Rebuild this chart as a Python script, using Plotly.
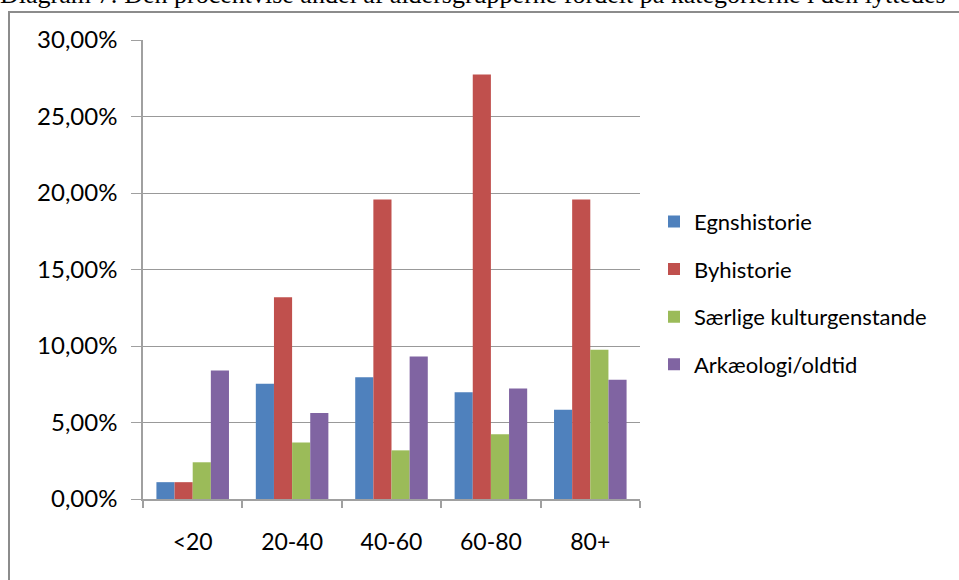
import plotly.graph_objects as go

categories = ["<20", "20-40", "40-60", "60-80", "80+"]
egnshistorie = [0.011, 0.0753, 0.0795, 0.0697, 0.0584]
byhistorie = [0.011, 0.1319, 0.1958, 0.2775, 0.1958]
saerlige = [0.024, 0.037, 0.0318, 0.0423, 0.0975]
arkaeologi = [0.084, 0.0562, 0.0932, 0.0723, 0.078]
series_names = ["Egnshistorie", "Byhistorie", "Særlige kulturgenstande", "Arkæologi/oldtid"]
colors = ["#4F81BD", "#C0504D", "#9BBB59", "#8064A2"]
y_ticks = [0, 0.05, 0.10, 0.15, 0.20, 0.25, 0.30]
y_ticklabels = ["0,00%", "5,00%", "10,00%", "15,00%", "20,00%", "25,00%", "30,00%"]
title_text = "Diagram 7: Den procentvise andel af aldersgrupperne fordelt på kategorierne i den lyttedes"

font_family = "Lato, 'Open Sans', sans-serif"

fig = go.Figure()
for name, vals, col in zip(series_names, [egnshistorie, byhistorie, saerlige, arkaeologi], colors):
    fig.add_trace(go.Bar(
        x=categories, y=vals, name=name, legendgroup=name,
        marker=dict(color=col, line=dict(width=0)),
    ))

W, H = 959, 580
L, R, T, B = 143, 640, 40, 499.5

fig.update_layout(
    width=W, height=H,
    paper_bgcolor="white", plot_bgcolor="white",
    margin=dict(l=L, r=W - R, t=T, b=H - B, autoexpand=False),
    barmode="group", bargap=0.27, bargroupgap=0,
    font=dict(family=font_family, color="#000000", size=22),
    legend=dict(
        x=(654 - L) / (R - L), xref="paper", xanchor="left",
        y=(B - 293.5) / (B - T), yanchor="middle",
        font=dict(size=22, color="#000000", family=font_family),
        tracegroupgap=16, traceorder="grouped",
        itemwidth=30, bgcolor="rgba(0,0,0,0)",
    ),
    showlegend=True,
)

fig.update_xaxes(
    type="category", showgrid=False, showline=True, linecolor="#A0A0A0", linewidth=1.5,
    ticks="outside", tickson="boundaries", ticklen=7, tickcolor="#A0A0A0", tickwidth=1.5,
    tickfont=dict(size=23, family=font_family, color="#000000"), ticklabelstandoff=22,
)
fig.update_yaxes(
    range=[0, 0.30], tickvals=y_ticks, ticktext=y_ticklabels,
    showgrid=True, gridcolor="#999999", gridwidth=1,
    showline=True, linecolor="#A0A0A0", linewidth=1.5,
    ticks="outside", ticklen=10, tickcolor="#A0A0A0", tickwidth=1,
    tickfont=dict(size=24, family=font_family, color="#000000"), ticklabelstandoff=9,
    zeroline=False,
)

# outer chart frame (partially visible: left and top edges)
fig.add_shape(type="rect", xref="paper", yref="paper",
              x0=(9 - L) / (R - L), x1=(W + 10 - L) / (R - L),
              y0=(B - (H + 10)) / (B - T), y1=(B - 12) / (B - T),
              line=dict(color="#8C8C8C", width=2), fillcolor="rgba(0,0,0,0)", layer="below")

# cut-off document caption at the very top
fig.add_annotation(text=title_text, xref="paper", yref="paper",
                   x=(-2 - L) / (R - L), xanchor="left",
                   y=(B - 11) / (B - T), yanchor="bottom",
                   showarrow=False,
                   font=dict(family="'Liberation Serif', 'Times New Roman', serif", size=26, color="#000000"))

fig.write_html("out.html", config={"displayModeBar": False},
               post_script="document.body.style.margin='0';document.body.style.padding='0';")
